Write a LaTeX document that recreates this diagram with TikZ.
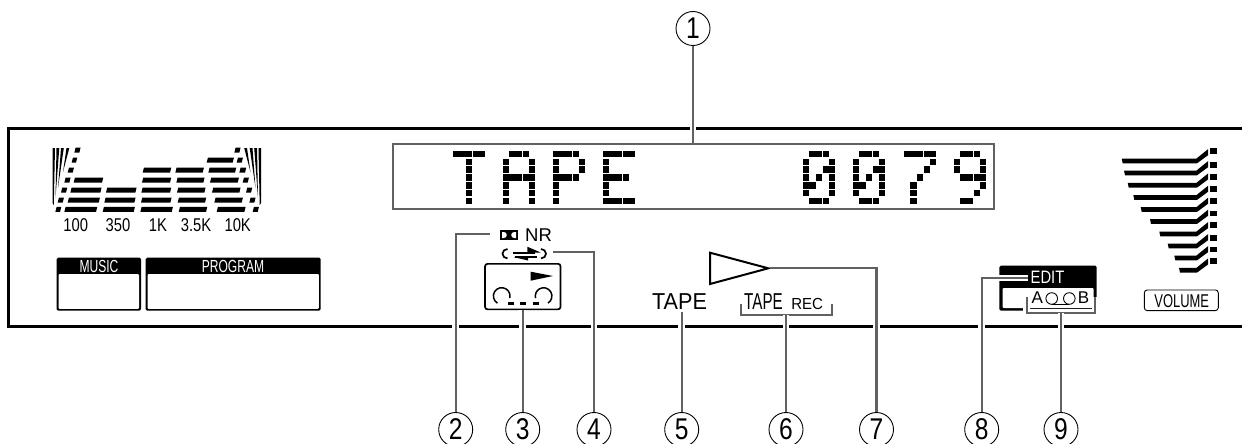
\documentclass[tikz,border=0pt]{standalone}
\usepackage{fontspec}
\setmainfont{Liberation Sans}
\definecolor{leadgray}{rgb}{0.38,0.38,0.38}
\newcommand{\dotglyph}[2]{\foreach \c/\r in {#2} \fill (#1+\c*6.6-0.2,151+\r*7.8-0.2) rectangle ++(6.2,6.5);}
\newcommand{\eqbar}[3]{\fill (#2/3+40+0.6,#1/3+140-2.5) -- (#3/3+40+0.6,#1/3+140-2.5) -- (#3/3+40-0.6,#1/3+140+2.5) -- (#2/3+40-0.6,#1/3+140+2.5) -- cycle;}
\tikzset{
	leader/.style={draw=leadgray, line width=2.3pt, preaction={draw=white, line width=6.5pt}},
	callout/.style={circle, draw, line width=0.9pt, minimum size=34pt, inner sep=0pt},
	digit/.style={xscale=0.82, inner sep=0pt, font=\fontsize{30pt}{32pt}\selectfont},
	panelbox/.style={fill=black, rounded corners=1.5pt},
	paneltext/.style={inner sep=0pt, font=\fontsize{17.5pt}{19pt}\selectfont, text=white, xscale=0.69},
}
\begin{document}
\begin{tikzpicture}[x=1pt, y=-1pt]
	\useasboundingbox (0,0) rectangle (1242,444);
	% panel
	\draw [line width=2.3pt] (1242,128.5) -- (8.5,128.5) -- (8.5,326.5) -- (1242,326.5);
	% display
	\node [draw=leadgray, line width=2.5pt, minimum width=601pt, minimum height=65pt, inner sep=0pt] (display) at (693.5,176.5) {};
	\dotglyph{453}{0/0,1/0,2/0,3/0,4/0,2/1,2/2,2/3,2/4,2/5,2/6}
	\dotglyph{503}{1/0,2/0,3/0,0/1,4/1,0/2,4/2,0/3,1/3,2/3,3/3,4/3,0/4,4/4,0/5,4/5,0/6,4/6}
	\dotglyph{553}{0/0,1/0,2/0,3/0,0/1,4/1,0/2,4/2,0/3,1/3,2/3,3/3,0/4,0/5,0/6}
	\dotglyph{603}{0/0,1/0,2/0,3/0,4/0,0/1,0/2,0/3,1/3,2/3,3/3,0/4,0/5,0/6,1/6,2/6,3/6,4/6}
	\dotglyph{803}{1/0,2/0,3/0,0/1,4/1,0/2,3/2,4/2,0/3,2/3,4/3,0/4,1/4,4/4,0/5,4/5,1/6,2/6,3/6}
	\dotglyph{853}{1/0,2/0,3/0,0/1,4/1,0/2,3/2,4/2,0/3,2/3,4/3,0/4,1/4,4/4,0/5,4/5,1/6,2/6,3/6}
	\dotglyph{904}{0/0,1/0,2/0,3/0,4/0,4/1,3/2,2/3,1/4,1/5,1/6}
	\dotglyph{954}{1/0,2/0,3/0,0/1,4/1,0/2,4/2,1/3,2/3,3/3,4/3,4/4,3/5,1/6,2/6}
	% spectrum
	\foreach \yy/\xa/\xb in {120/103/188,150/93/183,180/85/178,208/75/170,150/200/288,180/195/285,208/190/283,
		90/310/392,120/308/392,150/306/392,180/305/393,208/303/397,90/408/490,120/411/492,150/413/495,180/415/497,208/418/500,
		60/502/580,90/507/587,120/512/595,150/518/600,180/525/607,208/532/615,
		30/105/120,60/97/110,90/85/100,120/75/90,150/65/80,180/55/70,208/48/62,
		30/585/600,60/592/607,90/600/617,120/610/625,150/620/635,180/630/645,208/640/655}
		{\eqbar{\yy}{\xa}{\xb}}
	\fill (52.5,148) -- (55,148) -- (53.8,205) -- (52.5,203) -- cycle;
	\fill (56.5,148) -- (59.3,148) -- (55.5,198) -- cycle;
	\fill (61,148) -- (63.8,148) -- (58,188) -- cycle;
	\fill (66.5,148) -- (69.3,148) -- (63,172) -- cycle;
	\fill (261,148) -- (258.5,148) -- (259.7,205) -- (261,203) -- cycle;
	\fill (257,148) -- (254.2,148) -- (258,198) -- cycle;
	\fill (252.5,148) -- (249.7,148) -- (255.5,188) -- cycle;
	\fill (247,148) -- (244.2,148) -- (250.5,172) -- cycle;
	\foreach \xx/\lbl in {75.7/100,118/350,158/1K,196/3.5K,237.7/10K}
		\node [inner sep=0pt, font=\fontsize{18.5pt}{20pt}\selectfont, xscale=0.8] at (\xx,225.5) {\lbl};
	% music and program
	\fill [panelbox] (56.7,257.7) rectangle (141,310.7);
	\fill [white, rounded corners=1pt] (58.5,274) rectangle (139,308.8);
	\node [paneltext] at (99,266) {MUSIC};
	\fill [panelbox] (145.7,257.7) rectangle (320.7,310.7);
	\fill [white, rounded corners=1pt] (147.5,274) rectangle (318.8,308.8);
	\node [paneltext] at (233,266) {PROGRAM};
	% noise reduction
	\fill (500,230) rectangle (518,240);
	\fill [white] (502,232) -- (503.8,232) arc (-90:90:3) -- (502,238) -- cycle;
	\fill [white] (516,232) -- (514.2,232) arc (-90:-270:3) -- (516,238) -- cycle;
	\node [inner sep=0pt, font=\fontsize{18.5pt}{20pt}\selectfont] (nrlabel) at (538.5,234.7) {NR};
	\coordinate (nrend) at (490,234.3);
	% repeat mark
	\draw [line width=1.7pt] (507.5,249) arc (-90:-270:5 and 4.7);
	\draw [line width=1.7pt] (541,249) arc (-90:90:5 and 4.7);
	\draw [line width=1.4pt] (512.7,252.8) -- (535,252.8);
	\draw [line width=1.4pt] (514.5,257) -- (537,257);
	\fill (527.3,246.7) -- (540.7,252.5) -- (527.3,252.5) -- cycle;
	\fill (528,260.5) -- (514,257.2) -- (528,257.2) -- cycle;
	\coordinate (repeatend) at (553,252.3);
	% cassette
	\node [draw, line width=1.7pt, rounded corners=2.5pt, minimum width=75.5pt, minimum height=45.5pt, inner sep=0pt] (cassette) at (522.8,286.6) {};
	\fill (530.7,271.7) -- (553,276) -- (530.7,280.7) -- cycle;
	\draw [line width=1.5pt] (497.4,303.1) arc (121:375:8.3);
	\draw [line width=1.5pt] (548,303.1) arc (58:-195:8.3);
	\foreach \xx in {507.7,520,533.3}
		\fill (\xx,301.8) rectangle ++(6,3.2);
	% tape
	\node [inner sep=0pt, font=\fontsize{23pt}{26pt}\selectfont, xscale=0.94] (tapelabel) at (679.5,301.7) {TAPE};
	\node [inner sep=0pt, font=\fontsize{23pt}{26pt}\selectfont, xscale=0.66] at (763.5,301.7) {TAPE};
	\node [inner sep=0pt, font=\fontsize{16pt}{18pt}\selectfont, xscale=0.94] at (807.2,304.2) {REC};
	\coordinate (recjoin) at (786,315);
	\draw [draw=leadgray, line width=2.3pt] (741,303.5) -- (741,315) -- (831.7,315) -- (831.7,303.5);
	\draw [line width=2pt, line join=miter] (710,252.7) -- (768.3,268.3) -- (710,284) -- cycle;
	\coordinate (playend) at (769.5,268.3);
	% edit
	\fill [panelbox] (999.3,265.7) rectangle (1096.7,310.7);
	\fill [white, rounded corners=1pt] (1002.7,288) rectangle (1093.5,308.2);
	\node [inner sep=0pt, font=\fontsize{18pt}{20pt}\selectfont, text=white, xscale=0.82] at (1047.5,277.5) {EDIT};
	\coordinate (editend) at (1028,278);
	\node [inner sep=0pt, font=\fontsize{17pt}{19pt}\selectfont] at (1037.2,298) {A};
	\node [inner sep=0pt, font=\fontsize{17pt}{19pt}\selectfont] at (1083.5,298) {B};
	\draw [line width=0.9pt] (1051.7,298.5) circle (5.8);
	\draw [line width=0.9pt] (1069.3,298.5) circle (5.8);
	\draw [line width=0.9pt] (1051.7,304.3) -- (1069.3,304.3);
	\coordinate (abjoin) at (1061,312.7);
	\draw [leader] (1026.7,297.3) -- (1026.7,312.7) -- (1095,312.7) -- (1095,297.3);
	% volume
	\foreach \yy/\xx in {160.7/1121.7,172.7/1124,185/1127.7,197.3/1133.3,209.3/1140.7,221.3/1150,233.7/1159.3,245.7/1167.7,257.7/1174.3,270/1179}
		\fill (\xx,\yy-2.2) -- (1196.5,\yy-2.2) -- (1208,\yy-11.5) -- (1208,\yy-5.5) -- (1197,\yy+2.6) -- (\xx+1,\yy+2.6) -- cycle;
	\foreach \yy in {150.7,165,176.7,189,201,213.3,225,237.7,249.3,261}
		\fill (1210,\yy-2.8) rectangle ++(6.9,5.6);
	\node [draw, line width=0.9pt, rounded corners=3pt, minimum width=74pt, minimum height=20.7pt, inner sep=0pt] at (1181.3,300.3) {};
	\node [inner sep=0pt, font=\fontsize{18.5pt}{20pt}\selectfont, xscale=0.7] at (1181.7,301) {VOLUME};
	% callouts
	\node [callout] (one) at (693,28.5) {};
	\node [callout] (two) at (455.7,429.5) {};
	\node [callout] (three) at (522.7,429.5) {};
	\node [callout] (four) at (594,429.5) {};
	\node [callout] (five) at (681.7,429.5) {};
	\node [callout] (six) at (786,429.5) {};
	\node [callout] (seven) at (876.5,429.5) {};
	\node [callout] (eight) at (981.7,429.5) {};
	\node [callout] (nine) at (1061,429.5) {};
	\foreach \nn/\lbl in {one/1,two/2,three/3,four/4,five/5,six/6,seven/7,eight/8,nine/9}
		\node [digit] (digit\nn) at (\nn) {\lbl};
	\draw [leader] (one) -- (display.north -| one);
	\draw [leader] (nrend) -| (two);
	\draw [leader] (cassette.south -| three) -- (three);
	\draw [leader] (repeatend) -| (four);
	\draw [leader] (tapelabel.south -| five) ++(0,2) -- (five);
	\draw [leader] (recjoin) -- (six);
	\draw [leader] (playend) -| (seven);
	\draw [leader] (editend) -| (eight);
	\draw [leader] (abjoin) -- (nine);
\end{tikzpicture}
\end{document}
